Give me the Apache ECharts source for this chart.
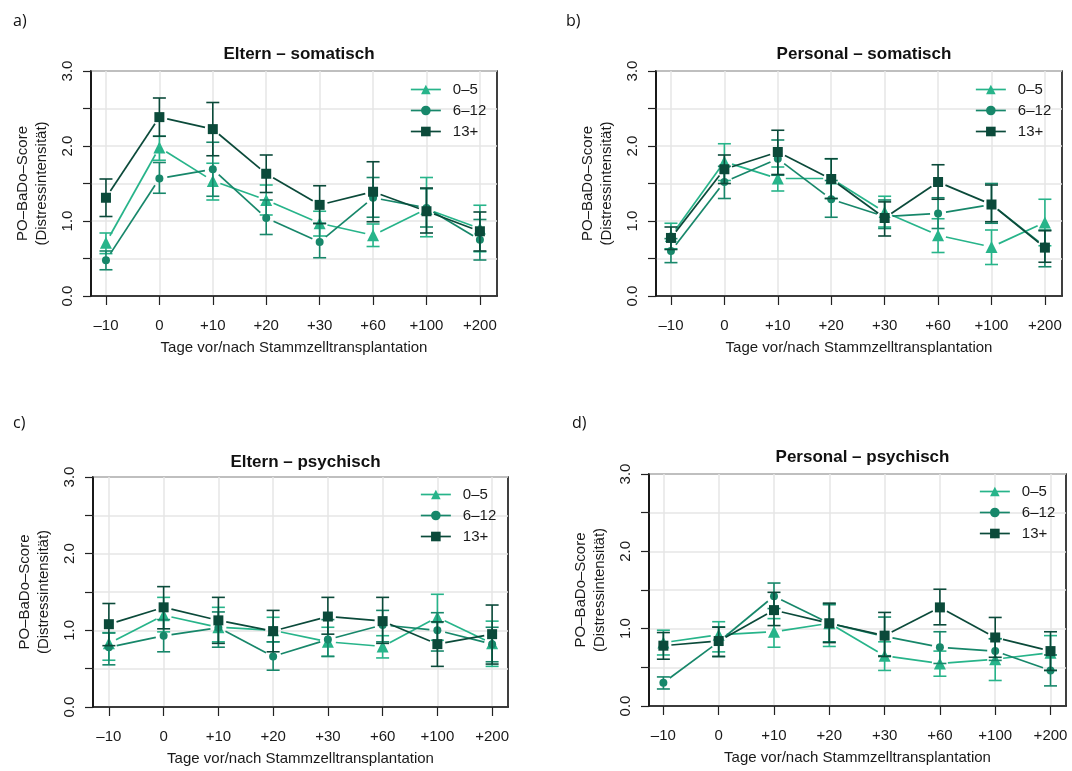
<!DOCTYPE html>
<html>
<head>
<meta charset="utf-8">
<script src="https://cdn.jsdelivr.net/npm/echarts@6/dist/echarts.min.js"></script>
<style>
  html, body { margin: 0; padding: 0; background: #ffffff; }
  #chart { width: 1072px; height: 771px; }
</style>
</head>
<body>
<div id="chart"></div>
<script>
// ---- data -------------------------------------------------------------
const tickLabels = ['–10', '0', '+10', '+20', '+30', '+60', '+100', '+200'];
const groupNames = ['0–5', '6–12', '13+'];
const panelTitles = ['Eltern – somatisch', 'Personal – somatisch', 'Eltern – psychisch', 'Personal – psychisch'];
const panelTags = ['a)', 'b)', 'c)', 'd)'];

// a) Eltern – somatisch
const elternSomMean05  = [0.71, 1.98, 1.535, 1.28, 0.97, 0.81, 1.16, 0.90];
const elternSomLo05    = [0.565, 1.81, 1.28, 1.08, 0.80, 0.66, 0.79, 0.59];
const elternSomHi05    = [0.84, 2.13, 1.77, 1.48, 1.13, 0.96, 1.58, 1.21];
const elternSomMean612 = [0.476, 1.567, 1.69, 1.04, 0.72, 1.31, 1.175, 0.75];
const elternSomLo612   = [0.35, 1.37, 1.33, 0.82, 0.51, 1.05, 0.92, 0.48];
const elternSomHi612   = [0.60, 1.78, 2.05, 1.28, 0.97, 1.58, 1.43, 1.02];
const elternSomMean13  = [1.31, 2.385, 2.225, 1.63, 1.215, 1.39, 1.13, 0.863];
const elternSomLo13    = [1.06, 2.13, 1.87, 1.38, 0.965, 0.99, 0.84, 0.60];
const elternSomHi13    = [1.56, 2.64, 2.58, 1.88, 1.47, 1.79, 1.44, 1.12];

// b) Personal – somatisch
const personalSomMean05  = [0.80, 1.79, 1.567, 1.567, 1.12, 0.81, 0.654, 0.98];
const personalSomLo05    = [0.63, 1.54, 1.40, 1.30, 0.92, 0.58, 0.42, 0.67];
const personalSomHi05    = [0.97, 2.03, 1.72, 1.83, 1.33, 1.03, 0.88, 1.29];
const personalSomMean612 = [0.60, 1.52, 1.83, 1.29, 1.06, 1.10, 1.22, 0.66];
const personalSomLo612   = [0.445, 1.30, 1.61, 1.05, 0.90, 0.90, 0.97, 0.39];
const personalSomHi612   = [0.765, 1.73, 2.08, 1.54, 1.28, 1.31, 1.50, 0.88];
const personalSomMean13  = [0.774, 1.69, 1.92, 1.56, 1.04, 1.52, 1.22, 0.645];
const personalSomLo13    = [0.62, 1.50, 1.62, 1.30, 0.80, 1.29, 0.99, 0.45];
const personalSomHi13    = [0.92, 1.88, 2.21, 1.83, 1.255, 1.75, 1.48, 0.87];

// c) Eltern – psychisch
const elternPsyMean05  = [0.83, 1.196, 1.04, 1.00, 0.85, 0.79, 1.17, 0.83];
const elternPsyLo05    = [0.61, 0.98, 0.85, 0.85, 0.66, 0.64, 0.87, 0.53];
const elternPsyHi05    = [0.97, 1.43, 1.30, 1.17, 1.04, 0.93, 1.47, 1.12];
const elternPsyMean612 = [0.78, 0.93, 1.035, 0.66, 0.88, 1.07, 1.00, 0.82];
const elternPsyLo612   = [0.55, 0.72, 0.78, 0.48, 0.66, 0.85, 0.73, 0.59];
const elternPsyHi612   = [0.965, 1.14, 1.24, 0.85, 1.14, 1.26, 1.23, 1.04];
const elternPsyMean13  = [1.08, 1.30, 1.13, 0.99, 1.18, 1.12, 0.82, 0.95];
const elternPsyLo13    = [0.80, 1.02, 0.83, 0.72, 0.95, 0.83, 0.53, 0.56];
const elternPsyHi13    = [1.35, 1.57, 1.43, 1.26, 1.43, 1.43, 1.11, 1.33];

// d) Personal – psychisch
const personalPsyMean05  = [0.82, 0.92, 0.96, 1.07, 0.65, 0.55, 0.605, 0.69];
const personalPsyLo05    = [0.66, 0.70, 0.76, 0.77, 0.46, 0.385, 0.33, 0.46];
const personalPsyHi05    = [0.98, 1.09, 1.13, 1.32, 0.83, 0.71, 0.87, 0.91];
const personalPsyMean612 = [0.30, 0.83, 1.42, 1.07, 0.90, 0.76, 0.71, 0.46];
const personalPsyLo612   = [0.22, 0.64, 1.26, 0.83, 0.65, 0.55, 0.59, 0.26];
const personalPsyHi612   = [0.376, 1.02, 1.59, 1.31, 1.15, 0.96, 0.87, 0.66];
const personalPsyMean13  = [0.78, 0.84, 1.24, 1.07, 0.91, 1.275, 0.886, 0.71];
const personalPsyLo13    = [0.605, 0.64, 1.04, 0.82, 0.64, 1.05, 0.63, 0.46];
const personalPsyHi13    = [0.95, 1.02, 1.47, 1.33, 1.21, 1.51, 1.145, 0.96];

// ---- assembly ---------------------------------------------------------
const panelSeries = [
  [[elternSomMean05, elternSomLo05, elternSomHi05],
   [elternSomMean612, elternSomLo612, elternSomHi612],
   [elternSomMean13, elternSomLo13, elternSomHi13]],
  [[personalSomMean05, personalSomLo05, personalSomHi05],
   [personalSomMean612, personalSomLo612, personalSomHi612],
   [personalSomMean13, personalSomLo13, personalSomHi13]],
  [[elternPsyMean05, elternPsyLo05, elternPsyHi05],
   [elternPsyMean612, elternPsyLo612, elternPsyHi612],
   [elternPsyMean13, elternPsyLo13, elternPsyHi13]],
  [[personalPsyMean05, personalPsyLo05, personalPsyHi05],
   [personalPsyMean612, personalPsyLo612, personalPsyHi612],
   [personalPsyMean13, personalPsyLo13, personalPsyHi13]]
];

const FONT = '"Liberation Sans", Arial, Helvetica, sans-serif';
const groupColors = ['#27b48a', '#17876a', '#0b4a3a'];
const groupSymbols = ['triangle', 'circle', 'rect'];
const groupSymbolSizes = [12, 8, 10];
const LINE_W = 1.7;
const GAP = 8;      // gap left around each point by the connecting lines
const CAP = 6.5;    // half width of error-bar caps

// plot boxes: left, top, width, height, x-range
const boxes = [
  { left: 91,  top: 71,  width: 406, height: 225, xmin: -0.28, xmax: 7.32 },
  { left: 656, top: 71,  width: 406, height: 225, xmin: -0.28, xmax: 7.32 },
  { left: 93,  top: 477, width: 415, height: 230, xmin: -0.29, xmax: 7.29 },
  { left: 649, top: 474, width: 417, height: 232, xmin: -0.26, xmax: 7.28 }
];
const titleTops = [41, 41, 449, 444];
const tagPos = [[8, 8], [561, 8], [8, 410], [567, 410]];
const legendPos = [[410, 82], [975, 82], [420, 487], [979, 484]];

const categoryIdx = tickLabels.map((_, i) => i);

function gapLineSeries(p, means, color, z) {
  const segs = means.slice(0, -1).map((m, i) => [i, m, i + 1, means[i + 1]]);
  return {
    type: 'custom', xAxisIndex: p, yAxisIndex: p, z: z, silent: true,
    data: segs, encode: { x: [0, 2], y: [1, 3] },
    renderItem(params, api) {
      const p1 = api.coord([api.value(0), api.value(1)]);
      const p2 = api.coord([api.value(2), api.value(3)]);
      const dx = p2[0] - p1[0], dy = p2[1] - p1[1];
      const len = Math.hypot(dx, dy);
      if (len < 2 * GAP + 1) return null;
      const ux = dx / len, uy = dy / len;
      return {
        type: 'line',
        shape: { x1: p1[0] + ux * GAP, y1: p1[1] + uy * GAP, x2: p2[0] - ux * GAP, y2: p2[1] - uy * GAP },
        style: { stroke: color, lineWidth: LINE_W }
      };
    }
  };
}

function errorBarSeries(p, lo, hi, color, z) {
  return {
    type: 'custom', xAxisIndex: p, yAxisIndex: p, z: z, silent: true,
    data: lo.map((l, i) => [i, l, hi[i]]), encode: { x: 0, y: [1, 2] },
    renderItem(params, api) {
      const x = api.value(0);
      const a = api.coord([x, api.value(1)]);
      const b = api.coord([x, api.value(2)]);
      const st = { stroke: color, lineWidth: 1.6 };
      return {
        type: 'group',
        children: [
          { type: 'line', shape: { x1: a[0], y1: a[1], x2: b[0], y2: b[1] }, style: st },
          { type: 'line', shape: { x1: a[0] - CAP, y1: a[1], x2: a[0] + CAP, y2: a[1] }, style: st },
          { type: 'line', shape: { x1: b[0] - CAP, y1: b[1], x2: b[0] + CAP, y2: b[1] }, style: st }
        ]
      };
    }
  };
}

function pointSeries(p, g, means, z) {
  return {
    type: 'line', name: groupNames[g], xAxisIndex: p, yAxisIndex: p, z: z,
    data: means.map((m, i) => [i, m]),
    symbol: groupSymbols[g], symbolSize: groupSymbolSizes[g], showSymbol: true,
    itemStyle: { color: groupColors[g] },
    lineStyle: { color: groupColors[g], width: LINE_W, opacity: 0 },
    emphasis: { disabled: true }, animation: false
  };
}

const grids = [], xAxes = [], yAxes = [], series = [], titles = [], legends = [];

boxes.forEach((bx, p) => {
  grids.push({
    left: bx.left, top: bx.top, width: bx.width, height: bx.height,
    containLabel: false, outerBoundsMode: 'none',
    show: true, borderColor: '#111', borderWidth: 1.6, backgroundColor: 'transparent'
  });
  xAxes.push({
    type: 'value', gridIndex: p, min: bx.xmin, max: bx.xmax,
    name: 'Tage vor/nach Stammzelltransplantation', nameLocation: 'middle', nameGap: 44,
    nameTextStyle: { fontFamily: FONT, fontSize: 15, color: '#1a1a1a' },
    axisLine: { show: true, onZero: false, lineStyle: { color: '#111', width: 1.6 } },
    axisTick: { show: true, length: 9, customValues: categoryIdx, lineStyle: { color: '#222', width: 1.2 } },
    axisLabel: {
      customValues: categoryIdx, margin: 22,
      formatter: v => tickLabels[Math.round(v)],
      fontFamily: FONT, fontSize: 15, color: '#1a1a1a'
    },
    splitLine: { show: true, lineStyle: { color: '#e6e6e6', width: 1.5 } }
  });
  yAxes.push({
    type: 'value', gridIndex: p, min: 0, max: 3, interval: 0.5,
    name: 'PO–BaDo–Score\n(Distressintensität)', nameLocation: 'middle', nameGap: 40, nameRotate: 90,
    nameTextStyle: { fontFamily: FONT, fontSize: 15, color: '#1a1a1a', lineHeight: 19 },
    axisLine: { show: true, onZero: false, lineStyle: { color: '#111', width: 1.6 } },
    axisTick: { show: true, length: 8, lineStyle: { color: '#222', width: 1.2 } },
    axisLabel: {
      rotate: 90, margin: 16, fontFamily: FONT, fontSize: 15, color: '#1a1a1a',
      showMinLabel: true, showMaxLabel: true,
      formatter: v => (Math.abs(v - Math.round(v)) < 1e-9 ? v.toFixed(1) : '')
    },
    splitLine: { show: true, lineStyle: { color: '#e6e6e6', width: 1.5 } }
  });

  titles.push({
    text: panelTitles[p], left: bx.left + bx.width / 2, top: titleTops[p], textAlign: 'center',
    textStyle: { fontFamily: FONT, fontSize: 17, fontWeight: 'bold', color: '#111' }
  });
  titles.push({
    text: panelTags[p], left: tagPos[p][0], top: tagPos[p][1],
    textStyle: { fontFamily: '"Open Sans", sans-serif', fontSize: 16, fontWeight: 'normal', color: '#111' }
  });

  legends.push({
    data: groupNames, orient: 'vertical', left: legendPos[p][0], top: legendPos[p][1],
    itemWidth: 30, itemHeight: 12, itemGap: 6, padding: 0,
    selectedMode: false,
    textStyle: { fontFamily: FONT, fontSize: 15, color: '#1a1a1a', padding: [0, 0, 0, 7] },
    lineStyle: { opacity: 1, width: LINE_W }
  });

  panelSeries[p].forEach((grp, g) => {
    const [mean, lo, hi] = grp;
    const zBase = 2 + g * 3;
    series.push(gapLineSeries(p, mean, groupColors[g], zBase));
    series.push(errorBarSeries(p, lo, hi, groupColors[g], zBase + 1));
    series.push(pointSeries(p, g, mean, zBase + 2));
  });
});

const chart = echarts.init(document.getElementById('chart'), null, { renderer: 'canvas' });
chart.setOption({
  animation: false,
  backgroundColor: '#ffffff',
  title: titles,
  legend: legends,
  grid: grids,
  xAxis: xAxes,
  yAxis: yAxes,
  series: series
});
</script>
</body>
</html>
